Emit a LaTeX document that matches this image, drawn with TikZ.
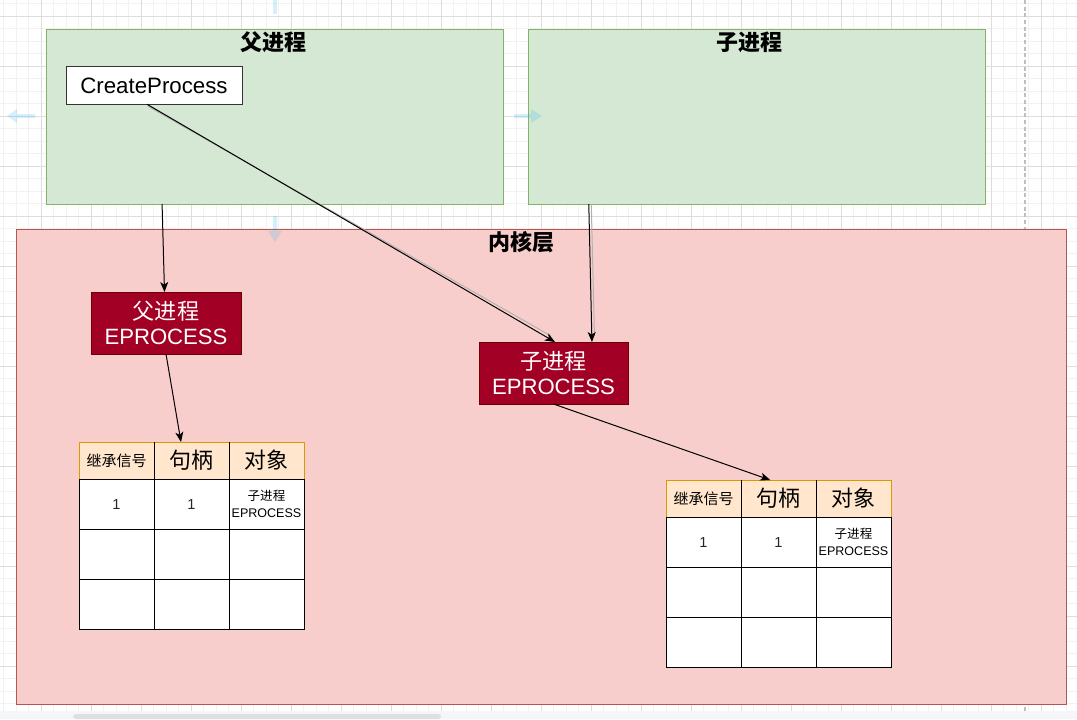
\documentclass[tikz,border=0pt]{standalone}
\usepackage{fontspec}
\setmainfont{Liberation Sans}
\newfontfamily\cjk{Noto Sans CJK SC}
\usetikzlibrary{arrows.meta,calc}
\definecolor{greenfill}{HTML}{D5E8D4}
\definecolor{greenline}{HTML}{82B366}
\definecolor{pinkfill}{HTML}{F8CECC}
\definecolor{pinkline}{HTML}{B85450}
\definecolor{redfill}{HTML}{A20025}
\definecolor{redline}{HTML}{6F0000}
\definecolor{hdrfill}{HTML}{FFE6CC}
\definecolor{hdrline}{HTML}{D79B00}
\definecolor{gridminor}{HTML}{F2F2F2}
\definecolor{gridmajor}{HTML}{DDDDDD}
\definecolor{bandgray}{HTML}{F5F6F7}
\definecolor{scrollgray}{HTML}{DEDFE1}
\definecolor{hoverblue}{HTML}{29B6F2}
\tikzset{
  box/.style={rectangle, inner sep=0pt, outer sep=0pt, line width=0.75pt},
  procbox/.style={box, fill=greenfill, draw=greenline, minimum width=342.75pt, minimum height=131.25pt},
  kernelbox/.style={box, fill=pinkfill, draw=pinkline, minimum width=787.5pt, minimum height=356.25pt},
  eprocbox/.style={box, fill=redfill, draw=redline, text=white, align=center,
     font=\fontsize{16.6}{18.2}\selectfont, minimum height=46.5pt},
  cpbox/.style={box, fill=white, draw=black!80, minimum width=132pt, minimum height=28.1pt,
     font=\fontsize{16.7}{19}\selectfont},
  titletext/.style={inner sep=0pt, font=\cjk\bfseries\fontsize{16.5}{20}\selectfont},
  hcell/.style={box, fill=hdrfill, draw=hdrline, minimum width=56.25pt, minimum height=27.75pt},
  bcell/.style={box, fill=white, draw=black, minimum width=56.25pt, minimum height=37.5pt},
  hsmall/.style={font=\cjk\fontsize{11.25}{13}\selectfont},
  hbig/.style={font=\cjk\fontsize{16.5}{20}\selectfont},
  numtext/.style={font=\fontsize{10.9}{13}\selectfont, text=black!85},
  objtext/.style={font=\fontsize{9.4}{12.75}\selectfont, align=center},
  arr/.style={draw=black, line width=0.75pt, -{Stealth[length=7.5pt, width=6pt, inset=2pt]}},
  shadowline/.style={draw=black!30, line width=0.75pt},
  hover/.style={fill=hoverblue, fill opacity=0.2, draw=none},
}
\begin{document}
\begin{tikzpicture}[x=0.75pt, y=-0.75pt]
\useasboundingbox (0,0) rectangle (1077,719);
% canvas and grid
\fill[white] (0,0) rectangle (1077,711);
\foreach \i in {0,...,87} { \draw[gridminor, line width=0.75pt] ({-9+12.5*\i},0) -- ++(0,711); }
\foreach \i in {0,...,56} { \draw[gridminor, line width=0.75pt] (0,{3.5+12.5*\i}) -- ++(1077,0); }
\foreach \i in {0,...,22} { \draw[gridmajor, line width=0.75pt] ({-9+50*\i},0) -- ++(0,711); }
\foreach \i in {0,...,13} { \draw[gridmajor, line width=0.75pt] (0,{16+50*\i}) -- ++(1077,0); }
\draw[black!25, line width=1pt, dash pattern=on 3pt off 2pt] (1025,0) -- (1025,711);
\fill[bandgray] (0,711) rectangle (1077,719);
\fill[scrollgray, rounded corners=2pt] (73,719) -- (73,714) -- (441,714) -- (441,719) -- cycle;

% process boxes
\node[procbox] (P) at (274.5,116.5) {};
\node[procbox] (C) at (756.5,116.5) {};
\node[titletext] (Ptitle) at (273,42) {父进程};
\node[titletext] (Ctitle) at (749,42) {子进程};
\node[cpbox] (CP) at (154,85.5) {CreateProcess};

% kernel
\node[kernelbox] (K) at (541,466.5) {};
\node[titletext] (Ktitle) at (521,242) {内核层};

\node[eprocbox, minimum width=112.5pt] (PE) at (166,323) {{\cjk 父进程}\\EPROCESS};
\node[eprocbox, minimum width=111.75pt] (CE) at (553.5,373) {{\cjk 子进程}\\EPROCESS};

% table 1
\node[hcell, hsmall] (t1h1) at (116.5,460.5) {继承信号};
\node[hcell, hbig]   (t1h2) at (191.5,460.5) {句柄};
\node[hcell, hbig]   (t1h3) at (266.5,460.5) {对象};
\node[bcell, numtext] (t1a1) at (116.5,504) {1};
\node[bcell, numtext] (t1a2) at (191.5,504) {1};
\node[bcell, objtext] (t1a3) at (266.5,504) {{\cjk 子进程}\\EPROCESS};
\node[bcell] (t1b1) at (116.5,554) {};
\node[bcell] (t1b2) at (191.5,554) {};
\node[bcell] (t1b3) at (266.5,554) {};
\node[bcell] (t1c1) at (116.5,604) {};
\node[bcell] (t1c2) at (191.5,604) {};
\node[bcell] (t1c3) at (266.5,604) {};
\draw[black, line width=0.75pt] (t1h1.north east) -- (t1h1.south east) (t1h2.north east) -- (t1h2.south east);

% table 2
\node[hcell, hsmall] (t2h1) at (703.5,498.5) {继承信号};
\node[hcell, hbig]   (t2h2) at (778.5,498.5) {句柄};
\node[hcell, hbig]   (t2h3) at (853.5,498.5) {对象};
\node[bcell, numtext] (t2a1) at (703.5,542) {1};
\node[bcell, numtext] (t2a2) at (778.5,542) {1};
\node[bcell, objtext] (t2a3) at (853.5,542) {{\cjk 子进程}\\EPROCESS};
\node[bcell] (t2b1) at (703.5,592) {};
\node[bcell] (t2b2) at (778.5,592) {};
\node[bcell] (t2b3) at (853.5,592) {};
\node[bcell] (t2c1) at (703.5,642) {};
\node[bcell] (t2c2) at (778.5,642) {};
\node[bcell] (t2c3) at (853.5,642) {};
\draw[black, line width=0.75pt] (t2h1.north east) -- (t2h1.south east) (t2h2.north east) -- (t2h2.south east);

% connectors
\draw[arr] ($(P.south west)!0.254!(P.south east)$) -- ($(PE.north west)!0.49!(PE.north east)$);
\draw[shadowline] ($(CP.south west)!0.46!(CP.south east)+(1,2)$) -- ($(CE.north west)!0.51!(CE.north east)+(-4,-6)$);
\draw[arr] ($(CP.south west)!0.46!(CP.south east)$) -- ($(CE.north west)!0.51!(CE.north east)$);
\draw[shadowline] ($(C.south west)!0.133!(C.south east)+(2.5,0)$) -- ($(CE.north west)!0.758!(CE.north east)+(2.5,-6)$);
\draw[arr] ($(C.south west)!0.133!(C.south east)$) -- ($(CE.north west)!0.758!(CE.north east)$);
\draw[arr] (PE.south) -- ($(t1h2.north west)!0.36!(t1h2.north east)$);
\draw[arr] (CE.south) -- ($(t2h2.north west)!0.39!(t2h2.north east)$);

% faint hover arrows of the editor
\fill[hover] (7,116) -- (17,109) -- (17,114) -- (35,114) -- (35,118) -- (17,118) -- (17,123) -- cycle;
\fill[hover] (542,116) -- (531,109) -- (531,114) -- (514,114) -- (514,118) -- (531,118) -- (531,123) -- cycle;
\fill[hover] (273,0) rectangle (277,14);
\fill[hover] (275,242) -- (268,231) -- (273,231) -- (273,216) -- (277,216) -- (277,231) -- (282,231) -- cycle;
\end{tikzpicture}
\end{document}
